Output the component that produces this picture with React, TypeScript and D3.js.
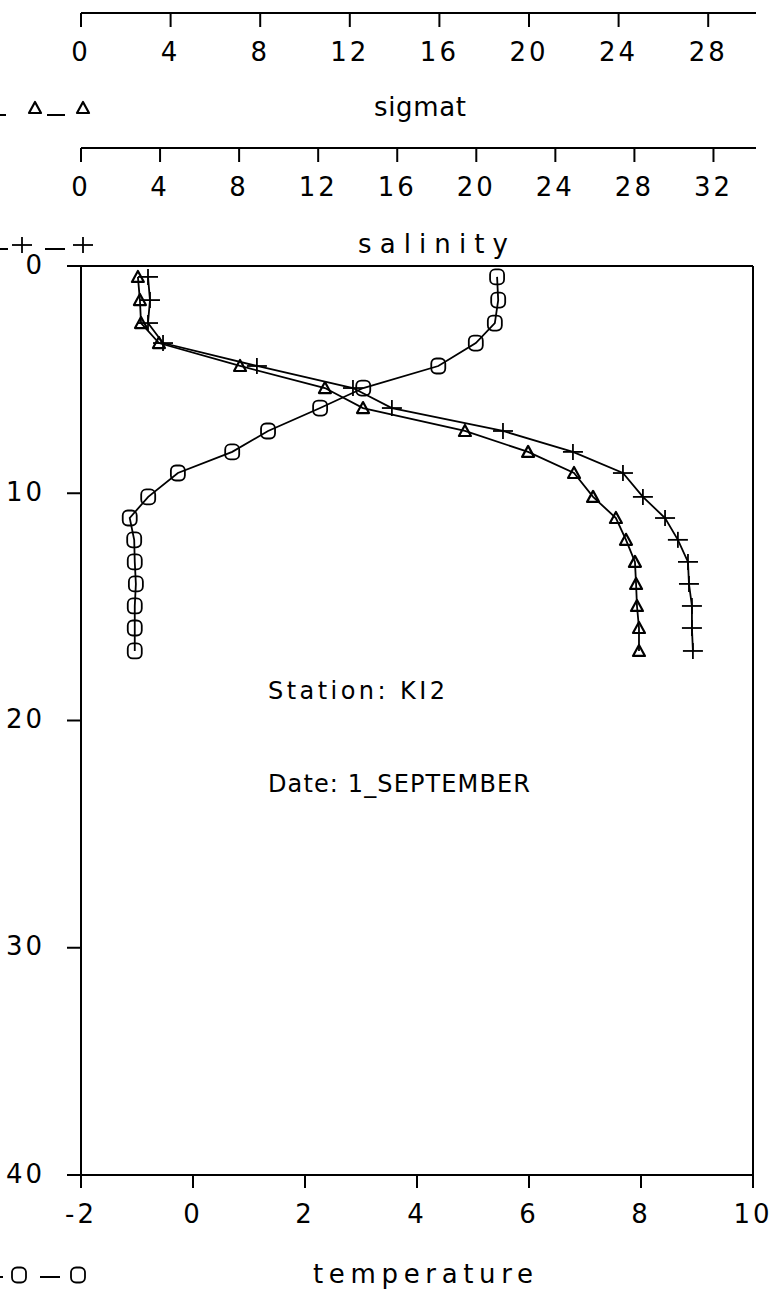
import React from "react";
import * as d3 from "d3";

// ---- data ----
const depth = [0.48, 1.5, 2.51, 3.39, 4.4, 5.37, 6.25, 7.26, 8.18, 9.11, 10.16, 11.09, 12.05, 13.02, 13.99, 14.96, 15.93, 16.94];
const temperature = [5.43, 5.45, 5.39, 5.05, 4.38, 3.04, 2.27, 1.34, 0.7, -0.27, -0.8, -1.13, -1.05, -1.04, -1.02, -1.04, -1.04, -1.04];
const salinity = [3.39, 3.49, 3.39, 4.15, 8.9, 13.76, 15.73, 21.35, 24.89, 27.42, 28.43, 29.55, 30.2, 30.71, 30.76, 30.91, 30.91, 30.96];
const sigmat = [2.54, 2.63, 2.68, 3.48, 7.1, 10.89, 12.59, 17.14, 19.96, 22.01, 22.86, 23.88, 24.33, 24.73, 24.78, 24.82, 24.91, 24.91];

const tempTicks = [-2, 0, 2, 4, 6, 8, 10];
const salTicks = [0, 4, 8, 12, 16, 20, 24, 28, 32];
const sigTicks = [0, 4, 8, 12, 16, 20, 24, 28];
const depthTicks = [0, 10, 20, 30, 40];

const stationLabel = "Station:  KI2";
const dateLabel = "Date: 1_SEPTEMBER";

// ---- layout ----
const W = 775, H = 1289;
const L = 81, R = 753, T = 266, B = 1175;
const SIG_Y = 13, SAL_Y = 148;
const FONT = "'DejaVu Sans', sans-serif";
const TICK = 14;

const xT = d3.scaleLinear().domain([-2, 10]).range([L, R]);
const xS = d3.scaleLinear().domain([0, 34]).range([L, R]);
const xG = d3.scaleLinear().domain([0, 30]).range([L, R]);
const y = d3.scaleLinear().domain([0, 40]).range([T, B]);

type P = [number, number];

function Circle({ x, yy }: { x: number; yy: number }) {
  return <rect x={x - 7} y={yy - 7.5} width={14} height={15} rx={5} ry={5} fill="none" stroke="#000" strokeWidth={1.8} />;
}
function Tri({ x, yy }: { x: number; yy: number }) {
  const p = d3.path();
  p.moveTo(x, yy - 6);
  p.lineTo(x + 6, yy + 5);
  p.lineTo(x - 6, yy + 5);
  p.closePath();
  return <path d={p.toString()} fill="none" stroke="#000" strokeWidth={2.2} strokeLinejoin="round" />;
}
function Plus({ x, yy }: { x: number; yy: number }) {
  return (
    <g stroke="#000" strokeWidth={1.8}>
      <line x1={x - 10} x2={x + 10} y1={yy} y2={yy} />
      <line x1={x} x2={x} y1={yy - 8} y2={yy + 8} />
    </g>
  );
}

function TopAxis({ scale, ticks, yy }: { scale: d3.ScaleLinear<number, number>; ticks: number[]; yy: number }) {
  const [r0, r1] = scale.range();
  return (
    <g>
      <line x1={r0} x2={r1 + 3} y1={yy} y2={yy} stroke="#000" strokeWidth={2} />
      {ticks.map((t) => (
        <g key={t}>
          <line x1={scale(t)} x2={scale(t)} y1={yy} y2={yy + TICK} stroke="#000" strokeWidth={2} />
          <text x={scale(t)} y={yy + 40} textAnchor="middle" dominantBaseline="middle" fontFamily={FONT} fontSize={26} letterSpacing={3}>
            {t}
          </text>
        </g>
      ))}
    </g>
  );
}

export default function App() {
  const pts = (xs: number[], sc: d3.ScaleLinear<number, number>): P[] => xs.map((v, i) => [sc(v), y(depth[i])]);
  const line = d3.line<P>().x((d) => d[0]).y((d) => d[1]);
  const tP = pts(temperature, xT);
  const sP = pts(salinity, xS);
  const gP = pts(sigmat, xG);

  return (
    <svg width={W} height={H} viewBox={`0 0 ${W} ${H}`} style={{ position: "absolute", left: 0, top: 0, background: "#fff" }}>
      <rect x={0} y={0} width={W} height={H} fill="#fff" />

      {/* top axes */}
      <TopAxis scale={xG} ticks={sigTicks} yy={SIG_Y} />
      <text x={420} y={108} textAnchor="middle" dominantBaseline="middle" fontFamily={FONT} fontSize={26} textLength={92} lengthAdjust="spacing">sigmat</text>
      <TopAxis scale={xS} ticks={salTicks} yy={SAL_Y} />
      <text x={433} y={245} textAnchor="middle" dominantBaseline="middle" fontFamily={FONT} fontSize={26} textLength={150} lengthAdjust="spacing">salinity</text>

      {/* legends */}
      <g stroke="#000" strokeWidth={2}>
        <line x1={-5} x2={6} y1={115} y2={115} />
        <line x1={47} x2={65} y1={115} y2={115} />
        <line x1={-5} x2={8} y1={249} y2={249} />
        <line x1={45} x2={65} y1={249} y2={249} />
        <line x1={-5} x2={3} y1={1277} y2={1277} />
        <line x1={40} x2={60} y1={1277} y2={1277} />
      </g>
      <Tri x={35} yy={108} />
      <Tri x={83} yy={108} />
      <Plus x={22} yy={245} />
      <Plus x={83} yy={245} />
      <Circle x={19} yy={1275} />
      <Circle x={78} yy={1275} />

      {/* frame */}
      <g stroke="#000" strokeWidth={2} fill="none">
        <line x1={L} x2={R} y1={T} y2={T} />
        <line x1={L} x2={L} y1={T} y2={B + 13} />
        <line x1={R} x2={R} y1={T} y2={B + 13} />
        <line x1={L} x2={R} y1={B} y2={B} />
      </g>

      {/* depth axis */}
      {depthTicks.map((d) => (
        <g key={d}>
          <line x1={L - TICK} x2={L} y1={y(d)} y2={y(d)} stroke="#000" strokeWidth={2} />
          <text x={45} y={y(d)} textAnchor="end" dominantBaseline="middle" fontFamily={FONT} fontSize={26} letterSpacing={3}>
            {d}
          </text>
        </g>
      ))}

      {/* temperature axis */}
      {tempTicks.map((t) => (
        <g key={t}>
          <line x1={xT(t)} x2={xT(t)} y1={B} y2={B + 13} stroke="#000" strokeWidth={2} />
          <text x={xT(t)} y={1215} textAnchor="middle" dominantBaseline="middle" fontFamily={FONT} fontSize={26} letterSpacing={3}>
            {t < 0 ? "-" + Math.abs(t) : t}
          </text>
        </g>
      ))}
      <text x={423} y={1275} textAnchor="middle" dominantBaseline="middle" fontFamily={FONT} fontSize={26} textLength={220} lengthAdjust="spacing">temperature</text>

      {/* series */}
      <path d={line(tP) || ""} fill="none" stroke="#000" strokeWidth={1.8} />
      <path d={line(sP) || ""} fill="none" stroke="#000" strokeWidth={1.8} />
      <path d={line(gP) || ""} fill="none" stroke="#000" strokeWidth={1.8} />
      {tP.map((p, i) => <Circle key={"t" + i} x={p[0]} yy={p[1]} />)}
      {sP.map((p, i) => <Plus key={"s" + i} x={p[0]} yy={p[1]} />)}
      {gP.map((p, i) => <Tri key={"g" + i} x={p[0]} yy={p[1]} />)}

      {/* annotations */}
      <text x={268} y={692} dominantBaseline="middle" fontFamily={FONT} fontSize={24} textLength={177} lengthAdjust="spacing">{stationLabel}</text>
      <text x={268} y={785} dominantBaseline="middle" fontFamily={FONT} fontSize={24} textLength={262} lengthAdjust="spacing">{dateLabel}</text>
    </svg>
  );
}
